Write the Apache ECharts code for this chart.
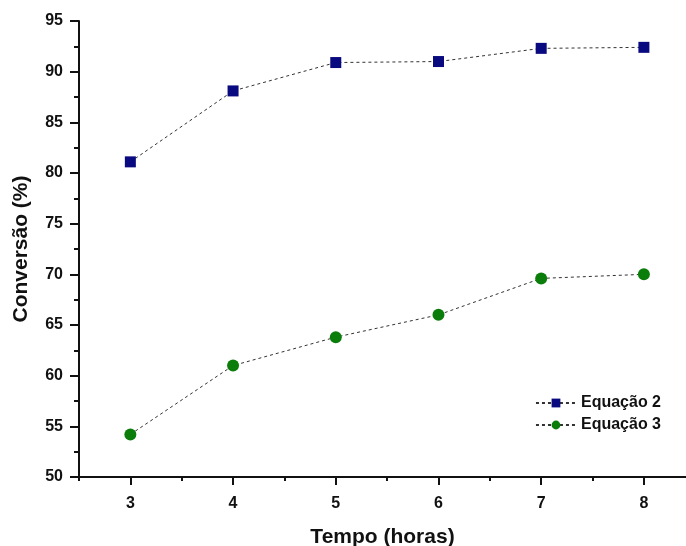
<!DOCTYPE html>
<html>
<head>
<meta charset="utf-8">
<script src="https://cdn.jsdelivr.net/npm/echarts@6/dist/echarts.min.js"></script>
<style>
  html, body { margin: 0; padding: 0; background: #fff; }
  #chart { width: 686px; height: 546px; }
</style>
</head>
<body>
<div id="chart"></div>
<script>
// tempo (horas) e conversão (%)
var horas = [3, 4, 5, 6, 7, 8];
var equacao2 = [81.1, 88.1, 90.9, 91.0, 92.3, 92.4];
var equacao3 = [54.2, 61.0, 63.8, 66.0, 69.6, 70.0];
var majorTicksX = [3, 4, 5, 6, 7, 8];
var minorTicksX = [2.5, 3.5, 4.5, 5.5, 6.5, 7.5];

var chart = echarts.init(document.getElementById('chart'));
var fontFam = 'Liberation Sans, Arial, sans-serif';

function pares(ys) {
  return horas.map(function (h, i) { return [h, ys[i]]; });
}

var option = {
  animation: false,
  backgroundColor: '#fff',
  grid: { left: 79, top: 21, bottom: 69, right: 0, outerBoundsMode: 'none', containLabel: false },
  legend: {
    right: 20,
    top: 390,
    orient: 'vertical',
    itemWidth: 40,
    itemHeight: 11,
    itemGap: 6,
    textStyle: { fontFamily: fontFam, fontWeight: 'bold', fontSize: 16, color: '#111' },
    data: ['Equação 2', 'Equação 3']
  },
  xAxis: [{
    type: 'value',
    min: 2.5,
    max: 8.41,
    name: 'Tempo (horas)',
    nameLocation: 'middle',
    nameGap: 50,
    nameTextStyle: { fontFamily: fontFam, fontWeight: 'bold', fontSize: 21, color: '#111' },
    axisLine: { show: true, lineStyle: { color: '#111', width: 2 } },
    axisTick: { show: true, length: 8, lineStyle: { color: '#111', width: 2 }, customValues: majorTicksX },
    axisLabel: { customValues: majorTicksX, margin: 19, fontFamily: fontFam, fontWeight: 'bold', fontSize: 16, color: '#111' },
    splitLine: { show: false }
  }, {
    type: 'value',
    position: 'bottom',
    min: 2.5,
    max: 8.41,
    axisLine: { show: false },
    axisTick: { show: true, length: 4, lineStyle: { color: '#111', width: 2 }, customValues: minorTicksX },
    axisLabel: { show: false },
    splitLine: { show: false }
  }],
  yAxis: {
    type: 'value',
    min: 50,
    max: 95,
    interval: 5,
    name: 'Conversão (%)',
    nameLocation: 'middle',
    nameGap: 47,
    nameTextStyle: { fontFamily: fontFam, fontWeight: 'bold', fontSize: 21, color: '#111' },
    axisLine: { show: true, lineStyle: { color: '#111', width: 2 } },
    axisTick: { show: true, length: 9, lineStyle: { color: '#111', width: 2 } },
    minorTick: { show: true, splitNumber: 2, length: 5, lineStyle: { color: '#111', width: 2 } },
    axisLabel: { margin: 16, fontFamily: fontFam, fontWeight: 'bold', fontSize: 16, color: '#111' },
    splitLine: { show: false }
  },
  series: [{
    name: 'Equação 2',
    type: 'line',
    data: pares(equacao2),
    symbol: 'rect',
    symbolSize: 11,
    itemStyle: { color: '#0a0a80' },
    lineStyle: { color: '#333', width: 1, type: [3, 3] }
  }, {
    name: 'Equação 3',
    type: 'line',
    data: pares(equacao3),
    symbol: 'circle',
    symbolSize: 12,
    itemStyle: { color: '#0b7d0b' },
    lineStyle: { color: '#333', width: 1, type: [3, 3] }
  }]
};

chart.setOption(option);
</script>
</body>
</html>
